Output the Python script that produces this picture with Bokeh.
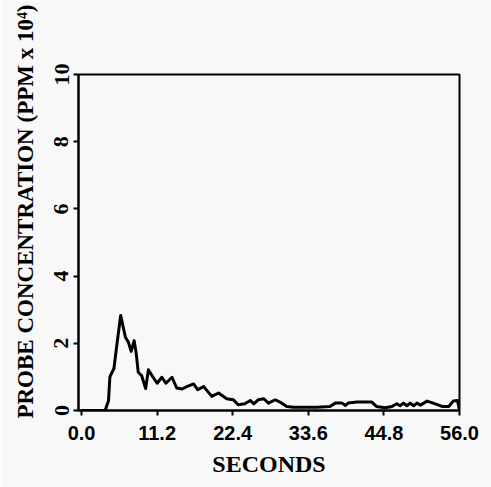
from bokeh.plotting import figure
from bokeh.models import Range1d, FixedTicker, Title
from bokeh.embed import file_html
from bokeh.resources import INLINE

# Data (seconds vs probe concentration, PPM x 10^4)
seconds = [0, 3.5, 4.0, 4.2, 4.8, 5.2, 5.8, 6.5, 6.95, 7.35,
           7.8, 8.1, 8.4, 8.9, 9.5, 9.9, 10.6, 11.2, 11.9, 12.5,
           13.4, 14.1, 14.9, 15.6, 16.6, 17.2, 18.1, 19.3, 20.3, 21.5,
           22.5, 23.2, 24.2, 25.0, 25.5, 26.2, 27.0, 27.7, 28.7, 29.4,
           30.4, 31.4, 33.4, 34.9, 36.8, 37.6, 38.6, 39.1, 39.5, 40.8,
           43.0, 43.7, 45.0, 46.0, 46.7, 47.2, 47.7, 48.2, 48.7, 49.2,
           49.7, 50.2, 51.2, 52.1, 53.4, 54.4, 55.1, 55.7, 56.0]
concentration = [0, 0, 0.3, 1.0, 1.25, 1.9, 2.83, 2.18, 2.03, 1.76,
                 2.08, 1.7, 1.14, 1.04, 0.65, 1.21, 0.99, 0.81, 0.99, 0.81,
                 0.99, 0.67, 0.64, 0.71, 0.79, 0.62, 0.71, 0.42, 0.52, 0.35,
                 0.32, 0.17, 0.2, 0.3, 0.2, 0.32, 0.35, 0.22, 0.32, 0.25,
                 0.12, 0.1, 0.1, 0.1, 0.12, 0.22, 0.22, 0.15, 0.22, 0.25,
                 0.25, 0.12, 0.08, 0.12, 0.2, 0.14, 0.22, 0.14, 0.22, 0.14,
                 0.22, 0.16, 0.28, 0.22, 0.12, 0.12, 0.28, 0.3, 0.0]

x_ticks = [0.0, 11.2, 22.4, 33.6, 44.8, 56.0]
x_tick_labels = ["0.0", "11.2", "22.4", "33.6", "44.8", "56.0"]
y_ticks = [0, 2, 4, 6, 8, 10]
y_tick_labels = ["0", "2", "4", "6", "8", "10"]

x_title = "SECONDS"
y_title = "PROBE CONCENTRATION (PPM x 10\u2074)"

bg = "#f8f8f8"

p = figure(width=491, height=487, output_backend="svg", toolbar_location=None,
           x_range=Range1d(-0.45, 56.0), y_range=Range1d(0, 10),
           min_border_left=78, min_border_right=32, min_border_top=74,
           min_border_bottom=77)

p.background_fill_color = bg
p.border_fill_color = bg
p.outline_line_color = "black"
p.outline_line_width = 2
p.xgrid.visible = False
p.ygrid.visible = False

p.line(seconds, concentration, line_color="black", line_width=3,
       line_join="round")

xa = p.xaxis[0]
xa.ticker = FixedTicker(ticks=x_ticks)
xa.major_label_overrides = {t: l for t, l in zip(x_ticks, x_tick_labels)}
xa.minor_tick_line_color = None
xa.major_tick_out = 5
xa.major_tick_in = 0
xa.axis_line_width = 2
xa.major_tick_line_width = 2
xa.major_label_text_font = "Liberation Sans"
xa.major_label_text_font_style = "bold"
xa.major_label_text_font_size = "20px"
xa.major_label_text_color = "black"
xa.major_label_standoff = 10
xa.axis_label = x_title
xa.axis_label_text_font = "Liberation Serif"
xa.axis_label_text_font_style = "bold"
xa.axis_label_text_font_size = "24px"
xa.axis_label_text_color = "black"
xa.axis_label_standoff = 8

ya = p.yaxis[0]
ya.ticker = FixedTicker(ticks=y_ticks)
ya.major_label_overrides = {t: l for t, l in zip(y_ticks, y_tick_labels)}
ya.minor_tick_line_color = None
ya.major_tick_out = 5
ya.major_tick_in = 0
ya.axis_line_width = 2
ya.major_tick_line_width = 2
ya.major_label_orientation = "vertical"
ya.major_label_text_font = "Liberation Serif"
ya.major_label_text_font_style = "bold"
ya.major_label_text_font_size = "22px"
ya.major_label_text_color = "black"
ya.major_label_standoff = 5

ytitle = Title(text=y_title, align="right", vertical_align="top",
               offset=-70, standoff=24,
               text_font="Liberation Serif", text_font_style="bold",
               text_font_size="23px", text_color="black")
p.add_layout(ytitle, "left")

open("out.html", "w").write(file_html(p, INLINE))
